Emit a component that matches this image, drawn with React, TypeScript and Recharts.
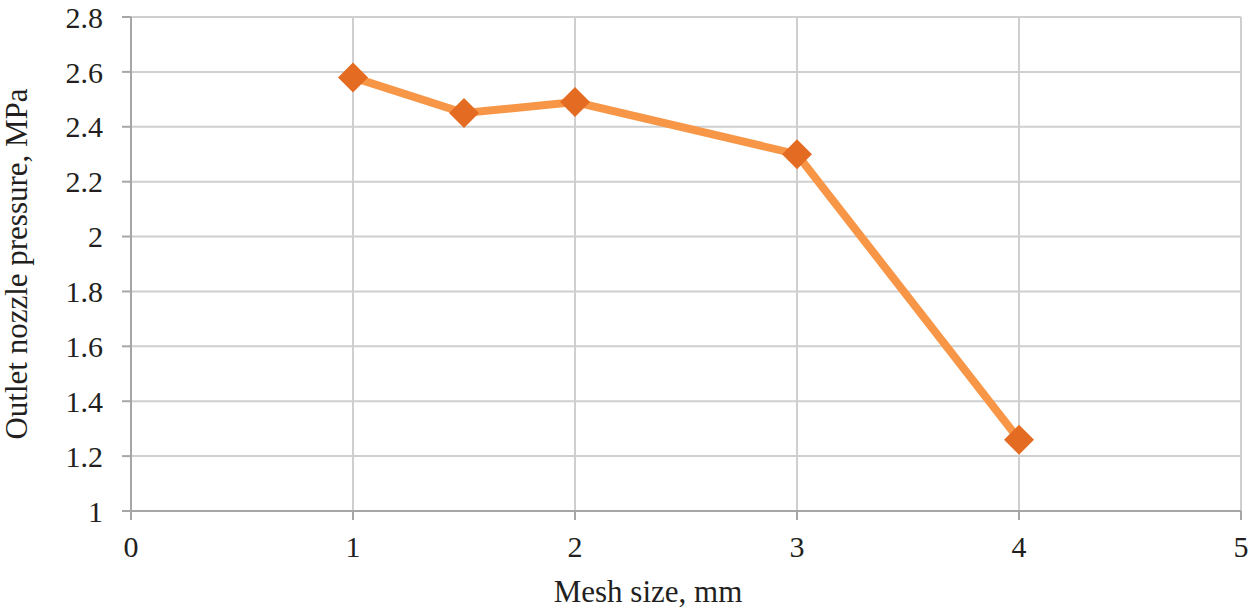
import { LineChart, Line, XAxis, YAxis, CartesianGrid, Label } from "recharts";

document.body.style.margin = "0";

const meshSize = [1, 1.5, 2, 3, 4];
const pressure = [2.58, 2.45, 2.49, 2.3, 1.26];
const xTicks = [0, 1, 2, 3, 4, 5];
const yTicks = [1, 1.2, 1.4, 1.6, 1.8, 2, 2.2, 2.4, 2.6, 2.8];

const data = meshSize.map((x, i) => ({ x, y: pressure[i] }));

const font = "'Liberation Serif', 'Times New Roman', serif";

function Diamond(props: any) {
  const { cx, cy } = props;
  if (cx == null || cy == null) return null;
  const r = 15;
  return (
    <polygon
      points={`${cx},${cy - r} ${cx + r},${cy} ${cx},${cy + r} ${cx - r},${cy}`}
      fill="#E46C22"
    />
  );
}

export default function App() {
  return (
    <LineChart
      width={1250}
      height={611}
      data={data}
      margin={{ top: 17, right: 9, bottom: 0, left: 0 }}
      style={{ fontFamily: font }}
    >
      <CartesianGrid stroke="#cfcfcf" strokeWidth={2} horizontalValues={yTicks} verticalValues={xTicks} />
      <XAxis
        dataKey="x"
        type="number"
        domain={[0, 5]}
        ticks={xTicks}
        height={100}
        stroke="#a6a6a6"
        strokeWidth={2}
        tickSize={9}
        tickMargin={16}
        tick={{ fill: "#231f20", fontSize: 30, fontFamily: font }}
      >
        <Label
          value="Mesh size, mm"
          position="insideBottom"
          offset={9}
          dx={-38}
          style={{ fill: "#231f20", fontSize: 31, fontFamily: font }}
        />
      </XAxis>
      <YAxis
        type="number"
        domain={[1, 2.8]}
        ticks={yTicks}
        width={131}
        stroke="#a6a6a6"
        strokeWidth={2}
        tickSize={9}
        tickMargin={19}
        tick={{ fill: "#231f20", fontSize: 30, fontFamily: font }}
      >
        <Label
          value="Outlet nozzle pressure, MPa"
          angle={-90}
          position="insideLeft"
          offset={16}
          style={{ textAnchor: "middle", fill: "#231f20", fontSize: 31, fontFamily: font }}
        />
      </YAxis>
      <Line
        dataKey="y"
        stroke="#F79646"
        strokeWidth={8}
        dot={<Diamond />}
        activeDot={false}
        isAnimationActive={false}
      />
    </LineChart>
  );
}
